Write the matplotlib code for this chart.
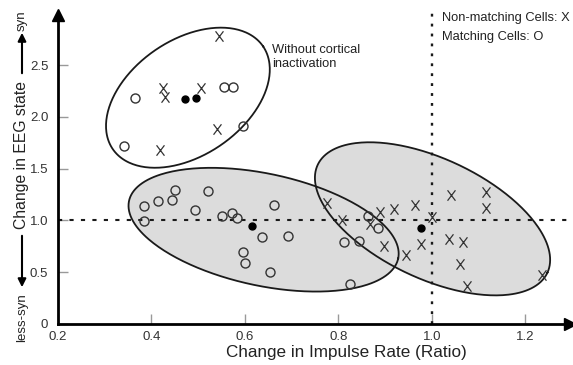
import numpy as np
import matplotlib
matplotlib.use("Agg")
import matplotlib.pyplot as plt
from matplotlib.path import Path
from matplotlib.patches import FancyArrowPatch

plt.rcParams["font.family"] = ["Liberation Sans", "DejaVu Sans"]

# non-matching cells (X)
x_nonmatch = [0.545, 0.425, 0.43, 0.505, 0.54, 0.419,
              0.775, 0.807, 0.868, 0.889, 0.92, 0.965, 1.0, 0.898, 0.945,
              0.976, 1.041, 1.117, 1.117, 1.037, 1.066, 1.06, 1.076, 1.236]
y_nonmatch = [2.78, 2.28, 2.19, 2.28, 1.88, 1.68,
              1.17, 1.005, 0.97, 1.085, 1.11, 1.145, 1.035, 0.75, 0.67,
              0.775, 1.25, 1.275, 1.125, 0.825, 0.79, 0.58, 0.37, 0.475]

# matching cells (O)
x_match = [0.365, 0.342, 0.555, 0.575, 0.595,
           0.383, 0.384, 0.413, 0.45, 0.445, 0.493, 0.522, 0.551, 0.573,
           0.583, 0.595, 0.6, 0.636, 0.663, 0.654, 0.692, 0.813, 0.845,
           0.824, 0.863, 0.885]
y_match = [2.18, 1.72, 2.29, 2.29, 1.91,
           1.14, 0.995, 1.19, 1.29, 1.20, 1.10, 1.28, 1.04, 1.07,
           1.02, 0.70, 0.59, 0.84, 1.15, 0.505, 0.85, 0.79, 0.80,
           0.39, 1.04, 0.93]

# group means (filled dots)
x_mean = [0.472, 0.495, 0.616, 0.976]
y_mean = [2.17, 2.18, 0.95, 0.93]

x_ticks = [0.2, 0.4, 0.6, 0.8, 1.0, 1.2]
y_ticks = [0, 0.5, 1.0, 1.5, 2.0, 2.5]

fig = plt.figure(figsize=(5.73, 3.65), dpi=100)
ax = fig.add_axes([58 / 573, 41 / 365, 512 / 573, 309 / 365])
ax.set_xlim(0.2064, 1.2957)
ax.set_ylim(0, 2.985)


def ellipse_xy(cx, cy, a, b, ang):
    # semi axes in pixels, angle in screen degrees
    t = np.linspace(0, 2 * np.pi, 300)
    th = np.deg2rad(ang)
    px, py = ax.transData.transform((cx, cy))
    dx = a * np.cos(t) * np.cos(th) - b * np.sin(t) * np.sin(th)
    dy = a * np.cos(t) * np.sin(th) + b * np.sin(t) * np.cos(th)
    pts = ax.transData.inverted().transform(np.column_stack([px + dx, py + dy]))
    return pts[:, 0], pts[:, 1]


ex_r, ey_r = ellipse_xy(1.0015, 1.016, 127.5, 60, -25)
ex_l, ey_l = ellipse_xy(0.640, 0.911, 138.4, 56, -12)
ex_t, ey_t = ellipse_xy(0.478, 2.186, 91.4, 57.8, 34)

ax.fill(ex_r, ey_r, color="#dcdcdc", zorder=1, lw=0)
ax.fill(ex_l, ey_l, color="#dcdcdc", zorder=1, lw=0)
for ex, ey in [(ex_r, ey_r), (ex_l, ey_l), (ex_t, ey_t)]:
    ax.plot(ex, ey, color="#1a1a1a", lw=1.3, zorder=2)

ax.axhline(1.0, color="#1a1a1a", lw=1.5, ls=(0, (2, 3.5)), zorder=2.5, clip_on=False)
ax.plot([1.0, 1.0], [0, 3.02], color="#1a1a1a", lw=1.7, ls=(0, (1.2, 3.0)),
        zorder=2.5, clip_on=False)

# letter-like X marker, taller than wide
x_marker = Path([(-0.38, -0.5), (0.38, 0.5), (-0.38, 0.5), (0.38, -0.5)],
                [Path.MOVETO, Path.LINETO, Path.MOVETO, Path.LINETO])
ax.plot(x_nonmatch, y_nonmatch, ls="none", marker=x_marker, ms=7.5, mew=0.9,
        color="#333333", zorder=3)
ax.plot(x_match, y_match, ls="none", marker="o", ms=6.5, mfc="none",
        mec="#333333", mew=1.0, zorder=3)
ax.plot(x_mean, y_mean, ls="none", marker="o", ms=5, color="black", zorder=4)

for s in ["top", "right"]:
    ax.spines[s].set_visible(False)
for s in ["left", "bottom"]:
    ax.spines[s].set_linewidth(2)
    ax.spines[s].set_color("black")
ax.plot(1, 0, ">", color="black", ms=8, transform=ax.transAxes, clip_on=False)
ax.plot(0, 1, "^", color="black", ms=8, transform=ax.transAxes, clip_on=False)

ax.set_xticks(x_ticks)
ax.set_xticklabels(["0.2", "0.4", "0.6", "0.8", "1.0", "1.2"])
ax.set_yticks(y_ticks)
ax.set_yticklabels(["0", "0.5", "1.0", "1.5", "2.0", "2.5"])
ax.tick_params(direction="in", length=7, width=1, color="#999999",
               labelcolor="#333333", labelsize=9.5)
ax.tick_params(axis="y", pad=7)
ax.tick_params(axis="x", pad=5)

fig.text(346 / 573, 1 - 353 / 365, "Change in Impulse Rate (Ratio)", ha="center",
         va="center", fontsize=12.3, color="#222222")

fig.text(22 / 573, 1 - 155 / 365, "Change in EEG state", rotation=90, ha="center",
         va="center", fontsize=11.3, color="#222222")
fig.text(22 / 573, 1 - 21 / 365, "syn", rotation=90, ha="center", va="center",
         fontsize=9.5, color="#222222")
fig.text(22 / 573, 1 - 318 / 365, "less-syn", rotation=90, ha="center", va="center",
         fontsize=9.5, color="#222222")
arr = dict(arrowstyle="-|>", lw=1.5, color="black", mutation_scale=12)
fig.add_artist(FancyArrowPatch((22 / 573, 1 - 76 / 365), (22 / 573, 1 - 30 / 365),
                               transform=fig.transFigure, **arr))
fig.add_artist(FancyArrowPatch((22 / 573, 1 - 233 / 365), (22 / 573, 1 - 290 / 365),
                               transform=fig.transFigure, **arr))

fig.text(442 / 573, 1 - 18 / 365, "Non-matching Cells: X", ha="left", va="center",
         fontsize=9.3, color="#222222")
fig.text(442 / 573, 1 - 37 / 365, "Matching Cells: O", ha="left", va="center",
         fontsize=9.3, color="#222222")
fig.text(272 / 573, 1 - 57 / 365, "Without cortical\ninactivation", ha="left",
         va="center", fontsize=9.3, color="#222222", linespacing=1.3)

fig.savefig("out.png", dpi=100)
